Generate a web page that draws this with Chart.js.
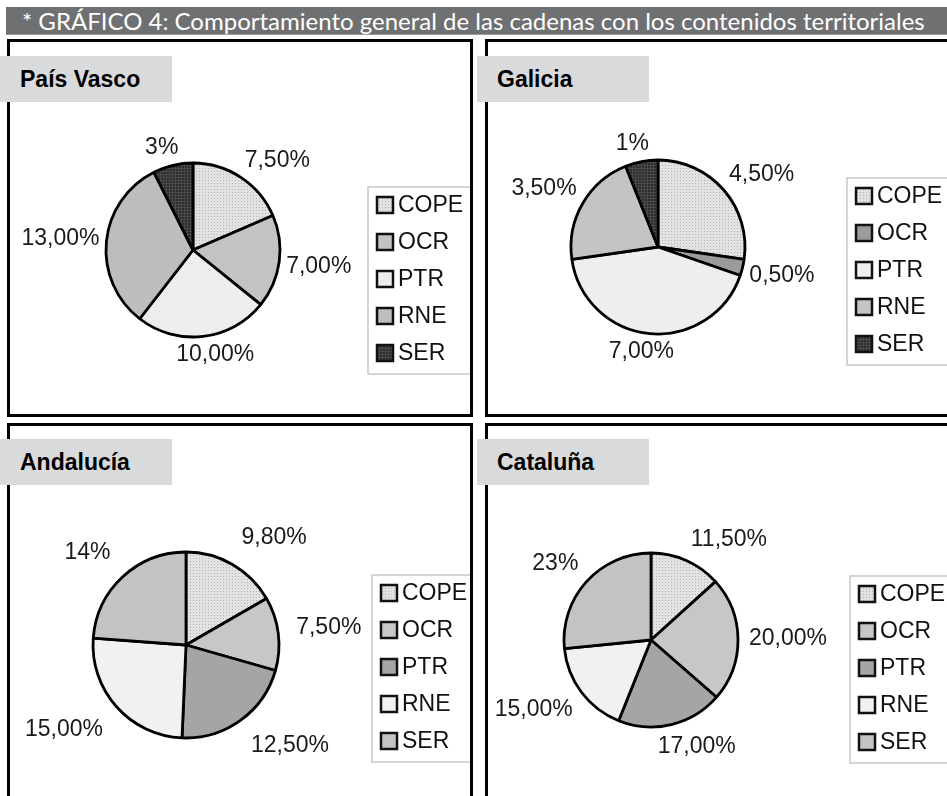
<!DOCTYPE html>
<html lang="es">
<head>
<meta charset="utf-8">
<title>Gráfico 4</title>
<script src="https://cdn.jsdelivr.net/npm/chart.js@4.4.1/dist/chart.umd.min.js"></script>
<style>
    html, body { margin: 0; padding: 0; background: #fff; }
    body { position: relative; width: 947px; height: 796px; overflow: hidden; font-family: 'Liberation Sans', Arial, sans-serif; }
    .titulo {
        position: absolute; left: 6px; top: 7px; width: 941px; height: 28px;
        background: #6f7072; color: #fff; box-sizing: border-box; padding-left: 16px;
        font-family: 'Lato', sans-serif; font-size: 24px; line-height: 27px; white-space: nowrap;
        border-bottom: 1px solid #9a9a9a;
    }
    .panel { position: absolute; border: 3px solid #000; box-sizing: border-box; overflow: hidden; background: #fff; }
    .panel canvas { position: absolute; left: 0; top: 0; }
    .region {
        position: absolute; width: 172px; height: 46px; background: #d9dadc;
        font-weight: bold; font-size: 23px; line-height: 46px; padding-left: 20px; box-sizing: border-box; color: #000;
    }
</style>
</head>
<body>
<div class="titulo">* GRÁFICO 4: Comportamiento general de las cadenas con los contenidos territoriales</div>

<div class="panel" style="left:7px; top:39px; width:466px; height:378px;"><canvas id="pv" width="460" height="372"></canvas></div>
<div class="panel" style="left:485px; top:39px; width:480px; height:378px;"><canvas id="ga" width="474" height="372"></canvas></div>
<div class="panel" style="left:7px; top:423px; width:466px; height:400px;"><canvas id="an" width="460" height="394"></canvas></div>
<div class="panel" style="left:485px; top:423px; width:480px; height:400px;"><canvas id="ca" width="474" height="394"></canvas></div>

<div class="region" style="left:0; top:56px;">País Vasco</div>
<div class="region" style="left:477px; top:56px;">Galicia</div>
<div class="region" style="left:0; top:439px;">Andalucía</div>
<div class="region" style="left:477px; top:439px;">Cataluña</div>

<script>
const cadenas = ['COPE', 'OCR', 'PTR', 'RNE', 'SER'];

const valoresPaisVasco = [7.5, 7, 10, 13, 3];
const etiquetasPaisVasco = ['7,50%', '7,00%', '10,00%', '13,00%', '3%'];

const valoresGalicia = [4.5, 0.5, 7, 3.5, 1];
const etiquetasGalicia = ['4,50%', '0,50%', '7,00%', '3,50%', '1%'];

const valoresAndalucia = [9.8, 7.5, 12.5, 15, 14];
const etiquetasAndalucia = ['9,80%', '7,50%', '12,50%', '15,00%', '14%'];

const valoresCataluna = [11.5, 20, 17, 15, 23];
const etiquetasCataluna = ['11,50%', '20,00%', '17,00%', '15,00%', '23%'];

// small textures like the old Excel fills
function puntos(base, dot) {
    const c = document.createElement('canvas');
    c.width = 3; c.height = 3;
    const g = c.getContext('2d');
    g.fillStyle = base;
    g.fillRect(0, 0, 3, 3);
    g.fillStyle = dot;
    g.fillRect(0, 0, 1, 1);
    return g.createPattern(c, 'repeat');
}

function trama(base, line) {
    const c = document.createElement('canvas');
    c.width = 3; c.height = 3;
    const g = c.getContext('2d');
    g.fillStyle = base;
    g.fillRect(0, 0, 3, 3);
    g.fillStyle = line;
    g.fillRect(0, 0, 3, 1);
    g.fillRect(0, 0, 1, 3);
    return g.createPattern(c, 'repeat');
}

const copeFill = puntos('#e2e2e2', '#b4b4b4');
const serOscuro = trama('#2c2c2c', '#4a4a4a');

const coloresNorte = {
    pv: [copeFill, '#c3c3c3', '#ededed', '#bdbdbd', serOscuro],
    ga: [copeFill, '#9b9b9b', '#eeeeee', '#c4c4c4', serOscuro]
};
const coloresSur = [copeFill, '#c7c7c7', '#a5a5a5', '#f1f1f1', '#c3c3c3'];

const clamp = v => Math.max(-1, Math.min(1, v));
const FUENTE = '23px "Liberation Sans", Arial, sans-serif';

const sliceLabels = {
    id: 'sliceLabels',
    afterDatasetsDraw(chart, args, opts) {
        const ctx = chart.ctx;
        const meta = chart.getDatasetMeta(0);
        const textos = chart.data.datasets[0].etiquetas;
        ctx.save();
        ctx.font = FUENTE;
        ctx.fillStyle = '#1a1a1a';
        ctx.textAlign = 'center';
        ctx.textBaseline = 'middle';
        meta.data.forEach((arc, i) => {
            const p = arc.getProps(['x', 'y', 'startAngle', 'endAngle', 'outerRadius'], true);
            const mid = (p.startAngle + p.endAngle) / 2;
            const r = p.outerRadius + opts.gap;
            const w = ctx.measureText(textos[i]).width;
            const cos = Math.cos(mid), sin = Math.sin(mid);
            const x = p.x + cos * r + (w / 2) * clamp(cos * 2.5);
            const y = p.y + sin * r + 11 * clamp(sin * 2.5);
            ctx.fillText(textos[i], x, y);
        });
        ctx.restore();
    }
};

const boxLegend = {
    id: 'boxLegend',
    afterDraw(chart, args, opts) {
        const ctx = chart.ctx;
        const arc = chart.getDatasetMeta(0).data[0];
        const left = arc.x + opts.dx;
        const top = arc.y + opts.dy;
        const fills = chart.data.datasets[0].backgroundColor;
        ctx.save();
        ctx.strokeStyle = '#c8c8c8';
        ctx.lineWidth = 1.5;
        ctx.strokeRect(left, top, 300, 5 * opts.row + 2);
        ctx.font = FUENTE;
        ctx.textBaseline = 'middle';
        chart.data.labels.forEach((label, i) => {
            const cy = top + 18 + i * opts.row;
            ctx.fillStyle = fills[i];
            ctx.fillRect(left + 9, cy - 8, 16, 16);
            ctx.strokeStyle = '#111';
            ctx.lineWidth = 2.5;
            ctx.strokeRect(left + 9, cy - 8, 16, 16);
            ctx.fillStyle = '#111';
            ctx.fillText(label, left + 30, cy + 1);
        });
        ctx.restore();
    }
};

// padding that puts the chart area centre on (cx, cy)
function padFor(canvas, cx, cy) {
    const hw = Math.min(cx, canvas.width - cx);
    const hh = Math.min(cy, canvas.height - cy);
    return {
        left: cx - hw,
        right: canvas.width - cx - hw,
        top: cy - hh,
        bottom: canvas.height - cy - hh
    };
}

function tarta(id, valores, etiquetas, colores, p) {
    const canvas = document.getElementById(id);
    return new Chart(canvas, {
        type: 'pie',
        data: {
            labels: cadenas,
            datasets: [{
                data: valores,
                etiquetas: etiquetas,
                backgroundColor: colores,
                borderColor: '#000',
                borderWidth: 2.8,
                radius: p.radius
            }]
        },
        options: {
            responsive: false,
            animation: false,
            events: [],
            layout: { padding: padFor(canvas, p.cx, p.cy) },
            plugins: {
                legend: { display: false },
                tooltip: { enabled: false },
                sliceLabels: { gap: p.gap },
                boxLegend: { dx: p.ldx, dy: p.ldy, row: 37 }
            }
        },
        plugins: [sliceLabels, boxLegend]
    });
}

tarta('pv', valoresPaisVasco, etiquetasPaisVasco, coloresNorte.pv,
    { cx: 183, cy: 208, radius: 87, gap: 7, ldx: 175, ldy: -63 });
tarta('ga', valoresGalicia, etiquetasGalicia, coloresNorte.ga,
    { cx: 170, cy: 205, radius: 87, gap: 7, ldx: 189, ldy: -69 });
tarta('an', valoresAndalucia, etiquetasAndalucia, coloresSur,
    { cx: 176, cy: 219, radius: 93, gap: 18, ldx: 186, ldy: -70 });
tarta('ca', valoresCataluna, etiquetasCataluna, coloresSur,
    { cx: 163, cy: 214, radius: 87, gap: 11, ldx: 199, ldy: -64 });
</script>
</body>
</html>
